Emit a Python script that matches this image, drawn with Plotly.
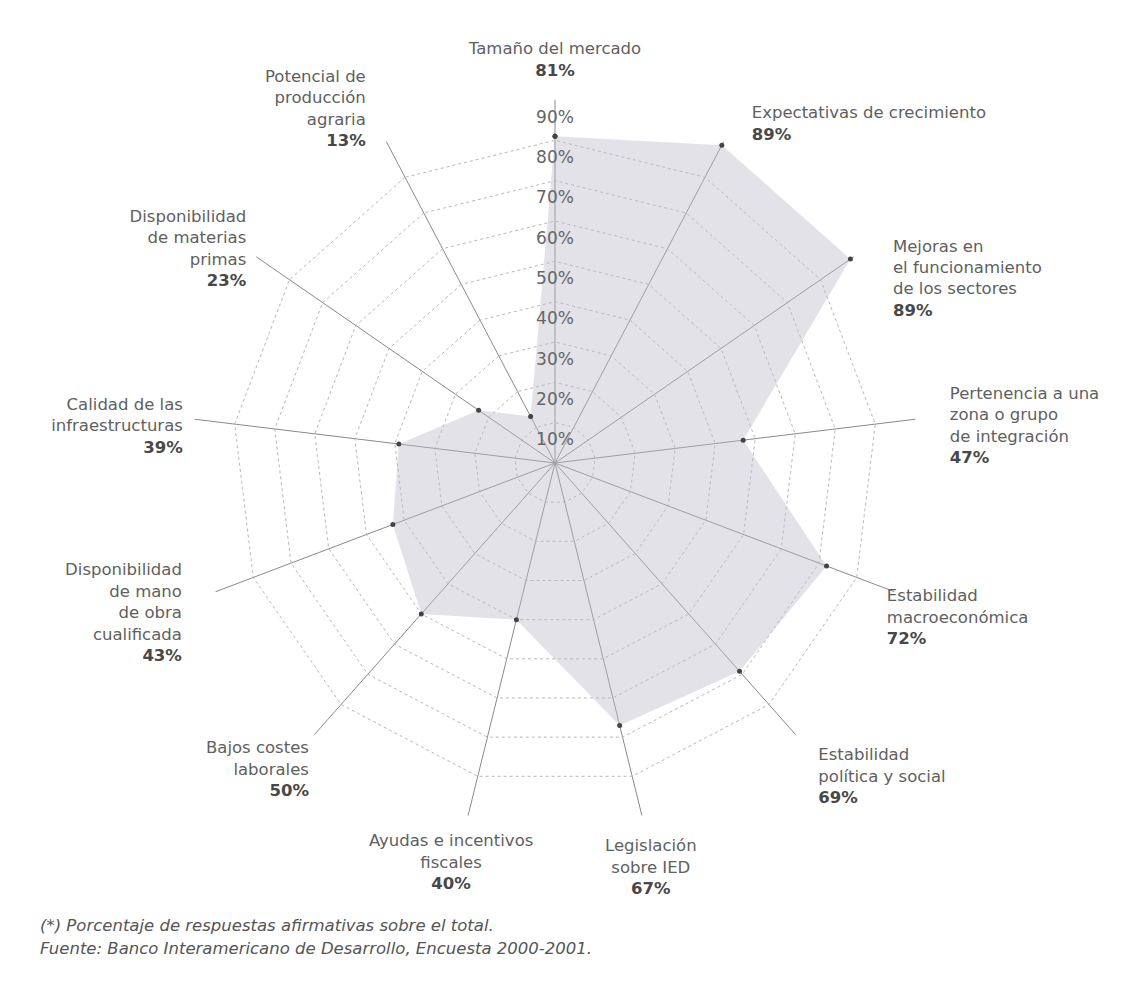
import plotly.graph_objects as go

# ---- data ----
categories = [
    "Tamaño del mercado",
    "Expectativas de crecimiento",
    "Mejoras en<br>el funcionamiento<br>de los sectores",
    "Pertenencia a una<br>zona o grupo<br>de integración",
    "Estabilidad<br>macroeconómica",
    "Estabilidad<br>política y social",
    "Legislación<br>sobre IED",
    "Ayudas e incentivos<br>fiscales",
    "Bajos costes<br>laborales",
    "Disponibilidad<br>de mano<br>de obra<br>cualificada",
    "Calidad de las<br>infraestructuras",
    "Disponibilidad<br>de materias<br>primas",
    "Potencial de<br>producción<br>agraria",
]
values = [81, 89, 89, 47, 72, 69, 67, 40, 50, 43, 39, 23, 13]
radial_ticks = [10, 20, 30, 40, 50, 60, 70, 80, 90]
radial_labels = [f"{t}%" for t in radial_ticks]
footnotes = [
    "(*) Porcentaje de respuestas afirmativas sobre el total.",
    "Fuente: Banco Interamericano de Desarrollo, Encuesta 2000-2001.",
]

# ---- label placement (style) ----
label_radius = [95, 97, 100.5, 98.3, 88, 96.2, 96.2, 95.5, 92, 99.8, 92.7, 93, 99.3]
label_angle_offset = [0, 2.5, 1.1, 1.7, 0, -1.2, -0.45, 1.8, 0, -1.27, -1.4, 0, -0.5]
label_position = [
    "top center", "middle right", "bottom right", "middle right",
    "bottom right", "bottom right", "bottom center", "bottom center",
    "bottom left", "middle left", "middle left", "middle left", "middle left",
]
tick_label_drop = 4.6  # radial tick labels sit just inside each ring

n = len(categories)
ids = [f"c{i}" for i in range(n)]
label_theta = [i * 360 / n + off for i, off in enumerate(label_angle_offset)]
label_text = [
    f"{c}<br><b><span style='color:#484848'>{v}%</span></b>"
    for c, v in zip(categories, values)
]

FONT = "DejaVu Sans"
TXT = "#606060"
FS = 16.5
W, H = 1123, 1000  # page adds an 8px body margin
CX, CY = 547, 455  # centre in figure pixels
R = 363            # pixel radius of the 90% ring
R_MAX = 90
R2_MAX = 110
R2 = R * R2_MAX / R_MAX

fig = go.Figure()
fig.add_trace(go.Scatterpolar(
    r=values + [values[0]],
    theta=ids + [ids[0]],
    mode="markers",
    fill="toself",
    fillcolor="rgba(185,185,200,0.42)",
    line=dict(color="rgba(0,0,0,0)", width=0),
    marker=dict(size=5, color="#444"),
    hoverinfo="skip",
    showlegend=False,
))
fig.add_trace(go.Scatterpolar(
    r=[t - tick_label_drop for t in radial_ticks],
    theta=[ids[0]] * len(radial_ticks),
    mode="text",
    text=radial_labels,
    textposition="middle center",
    textfont=dict(family=FONT, size=17, color="#666"),
    hoverinfo="skip",
    showlegend=False,
))
fig.add_trace(go.Scatterpolar(
    r=label_radius,
    theta=label_theta,
    thetaunit="degrees",
    mode="text",
    text=label_text,
    textposition=label_position,
    textfont=dict(family=FONT, size=FS, color=TXT),
    cliponaxis=False,
    hoverinfo="skip",
    showlegend=False,
    subplot="polar2",
))

fig.update_layout(
    width=W, height=H,
    paper_bgcolor="white",
    margin=dict(l=0, r=0, t=0, b=0),
    font=dict(family=FONT, size=FS, color=TXT),
    polar=dict(
        domain=dict(x=[(CX - R) / W, (CX + R) / W],
                    y=[(H - CY - R) / H, (H - CY + R) / H]),
        bgcolor="rgba(0,0,0,0)",
        gridshape="linear",
        radialaxis=dict(
            range=[0, R_MAX],
            tickvals=radial_ticks,
            showticklabels=False,
            ticks="",
            showline=False,
            gridcolor="#b8b8b8",
            griddash="dot",
            gridwidth=1.2,
        ),
        angularaxis=dict(
            type="category",
            categoryarray=ids,
            tickvals=ids,
            showticklabels=False,
            direction="clockwise",
            rotation=90,
            showline=False,
            gridcolor="#8a8a8a",
            gridwidth=1,
            ticks="",
        ),
    ),
    polar2=dict(
        domain=dict(x=[(CX - R2) / W, (CX + R2) / W],
                    y=[(H - CY - R2) / H, (H - CY + R2) / H]),
        bgcolor="rgba(0,0,0,0)",
        radialaxis=dict(range=[0, R2_MAX], visible=False),
        angularaxis=dict(
            type="linear", thetaunit="degrees",
            direction="clockwise", rotation=90,
            showgrid=False, showline=False, showticklabels=False, ticks="",
        ),
    ),
)

for i, t in enumerate(footnotes):
    fig.add_annotation(
        text=f"<i>{t}</i>", xref="paper", yref="paper",
        x=30 / W, y=(H - 917 - 23 * i) / H, xanchor="left", yanchor="middle",
        showarrow=False, font=dict(family=FONT, size=FS, color="#555"),
    )

fig.write_html("out.html")
